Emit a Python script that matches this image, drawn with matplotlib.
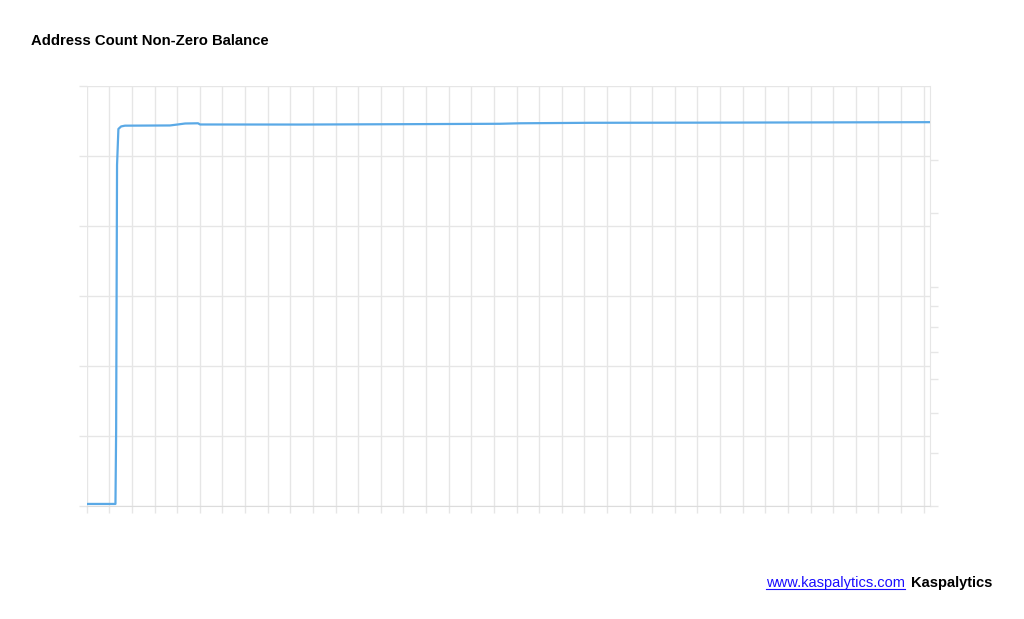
import matplotlib.pyplot as plt
from matplotlib.lines import Line2D

# month index (one grid column per month) and address count, in grid units
months = [0, 1.27, 1.30, 1.34, 1.40, 1.52, 1.69, 3.68, 4.0, 4.35, 4.92, 5.01,
          9.43, 13.85, 18.27, 19.15, 22.25, 27.11, 31.54, 37.28]
addresses = [0.029, 0.029, 1.085, 4.868, 5.382, 5.418, 5.429, 5.432, 5.445,
             5.460, 5.463, 5.446, 5.445, 5.450, 5.456, 5.463, 5.470, 5.472,
             5.475, 5.479]

x_ticks = list(range(0, 38))
y_ticks = [0, 1, 2, 3, 4, 5, 6]
right_ticks = [0, 0.752, 1.332, 1.809, 2.203, 2.551, 2.855, 3.126, 4.187, 4.939]

grid_col = "#e6e6e6"
line_col = "#5aa9e6"

plt.rcParams['font.family'] = ['Liberation Sans', 'DejaVu Sans']

fig = plt.figure(figsize=(10.24, 6.19), dpi=100)
ax = fig.add_axes([0.0847, 0.1826, 0.9082 - 0.0847, 0.8616 - 0.1826])

ax.plot(months, addresses, color=line_col, lw=1.6, solid_joinstyle='round', zorder=3)

ax.set_xlim(0, 37.28)
ax.set_ylim(0, 6)
ax.set_xticks(x_ticks)
ax.set_yticks(y_ticks)
ax.set_xticklabels([])
ax.set_yticklabels([])
ax.grid(True, color=grid_col, lw=1)
ax.tick_params(axis='x', length=5, color=grid_col, width=1)
ax.tick_params(axis='y', length=6, color=grid_col, width=1)
for side in ['top', 'left']:
    ax.spines[side].set_visible(False)
ax.spines['bottom'].set_color("#dcdcdc")
ax.spines['right'].set_color("#e6e6e6")

ax2 = ax.twinx()
ax2.set_ylim(0, 6)
ax2.set_yticks(right_ticks)
ax2.set_yticklabels([])
ax2.tick_params(axis='y', length=6, color=grid_col, width=1)
for s in ax2.spines.values():
    s.set_visible(False)

fig.text(31 / 1024, 1 - 41 / 619, "Address Count Non-Zero Balance",
         fontsize=10.7, fontweight='bold', va='center', ha='left', color='black')

link = fig.text(905 / 1024, 1 - 583 / 619, "www.kaspalytics.com", fontsize=10.5,
                color='#1a0dff', ha='right', va='center')
fig.text(911 / 1024, 1 - 583 / 619, "Kaspalytics", fontsize=10.5,
         fontweight='bold', ha='left', va='center', color='black')

# underline the link
fig.canvas.draw()
bb = link.get_window_extent().transformed(fig.transFigure.inverted())
fig.add_artist(Line2D([bb.x0, bb.x1], [bb.y0 + 0.002, bb.y0 + 0.002],
                      transform=fig.transFigure, color='#1a0dff', lw=0.8))

fig.savefig("out.png", dpi=100)
